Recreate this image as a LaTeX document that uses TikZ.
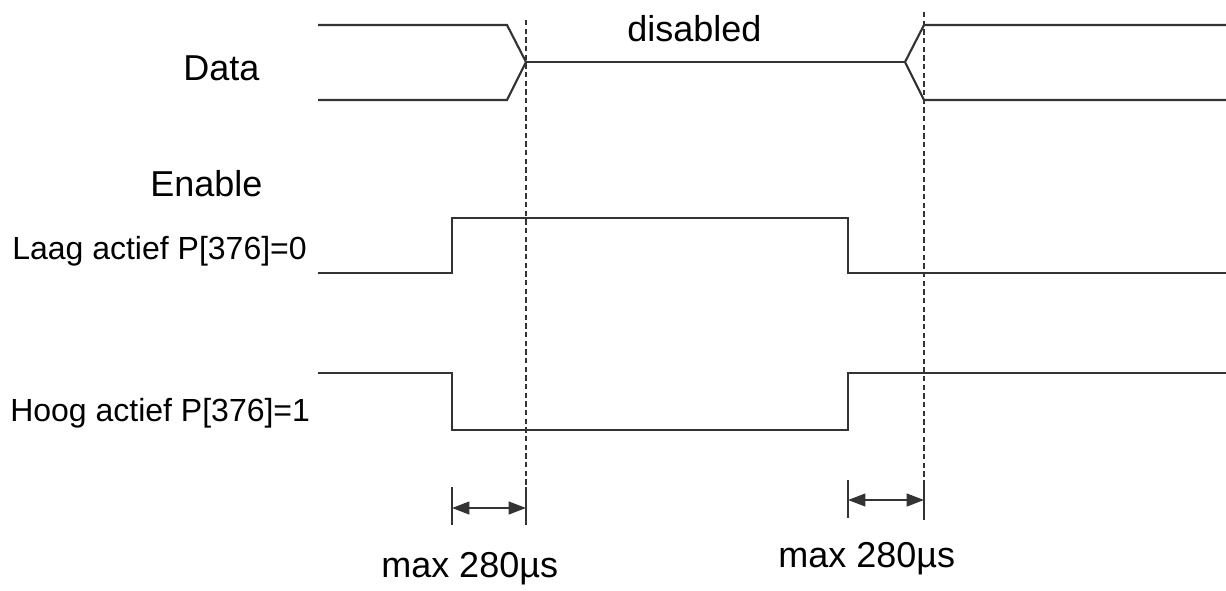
\documentclass[tikz,border=0pt]{standalone}
\usepackage{fontspec}
\setmainfont{Liberation Sans}
\usetikzlibrary{arrows.meta}

\begin{document}
\begin{tikzpicture}[
  x=0.75pt, y=-0.75pt, >={Triangle[length=13pt,width=9.5pt]},
  wave/.style={line width=1.6pt, black!80},
  guide/.style={line width=1.3pt, black!80, dash pattern=on 4pt off 2.5pt},
  bigtext/.style={font=\fontsize{27}{32}\selectfont, inner sep=0pt, anchor=base west},
  sigtext/.style={font=\fontsize{24}{28}\selectfont, inner sep=0pt, anchor=base west}
]
\useasboundingbox (0,0) rectangle (1226,590);

% data bus
\draw[wave] (318,25) -- (507,25) -- (526,62) -- (507,100) -- (318,100);
\draw[wave] (526,62) -- (905,62);
\draw[wave] (1226,25) -- (924,25) -- (905,62) -- (924,100) -- (1226,100);

% enable, both polarities
\draw[wave] (318,273) -- (452,273) -- (452,218) -- (848,218) -- (848,273) -- (1226,273);
\draw[wave] (318,373) -- (452,373) -- (452,430) -- (848,430) -- (848,373) -- (1226,373);

\draw[guide] (526,20) -- (526,525);
\draw[guide] (924,12) -- (924,520);

% timing
\coordinate (d1a) at (452,508);
\coordinate (d1b) at (526,508);
\coordinate (d2a) at (848,500);
\coordinate (d2b) at (924,500);
\draw[wave] (452,487) -- (452,525);
\draw[wave] (526,487) -- (526,525);
\draw[wave] (848,480) -- (848,518);
\draw[wave] (924,480) -- (924,518);
\draw[wave, <->] (d1a) -- (d1b);
\draw[wave, <->] (d2a) -- (d2b);

\node[bigtext] (data) at (183,80) {Data};
\node[bigtext] (disabled) at (627,41) {disabled};
\node[bigtext] (enable) at (150,196) {Enable};
\node[sigtext] (laag) at (12,259) {Laag actief P[376]=0};
\node[sigtext] (hoog) at (10,421) {Hoog actief P[376]=1};
\node[bigtext] (max1) at (381,577) {max 280µs};
\node[bigtext] (max2) at (778,567) {max 280µs};
\end{tikzpicture}
\end{document}
